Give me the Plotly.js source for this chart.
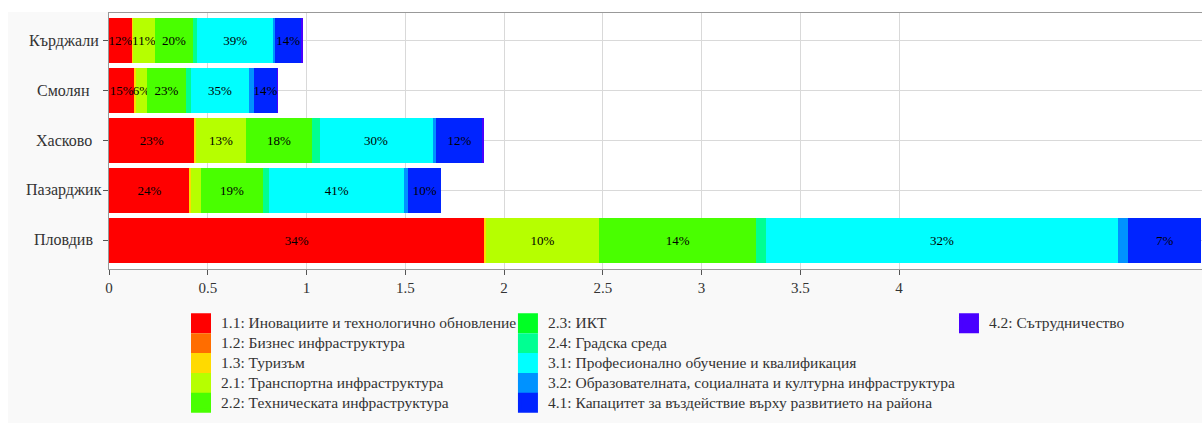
<!DOCTYPE html>
<html>
<head>
<meta charset="utf-8">
<script src="https://cdn.plot.ly/plotly-3.0.1.min.js"></script>
<style>
html,body{margin:0;padding:0;background:#ffffff;overflow:hidden;}
#chart{position:absolute;left:8px;top:12px;width:1194px;height:411px;}
</style>
</head>
<body>
<div id="chart"></div>
<script>
// Categories (top to bottom)
const regions = ["Кърджали", "Смолян", "Хасково", "Пазарджик", "Пловдив"];

// Series names
const seriesNames = [
  "1.1: Иновациите и технологично обновление",
  "1.2: Бизнес инфраструктура",
  "1.3: Туризъм",
  "2.1: Транспортна инфраструктура",
  "2.2: Техническата инфраструктура",
  "2.3: ИКТ",
  "2.4: Градска среда",
  "3.1: Професионално обучение и квалификация",
  "3.2: Образователната, социалната и културна инфраструктура",
  "4.1: Капацитет за въздействие върху развитието на района",
  "4.2: Сътрудничество"
];

// Series values (order follows regions)
const s11 = [0.1165, 0.130, 0.434, 0.410, 1.902];
const s12 = [0, 0, 0, 0, 0];
const s13 = [0.005, 0.008, 0.007, 0.005, 0.005];
const s21 = [0.110, 0.053, 0.252, 0.049, 0.575];
const s22 = [0.196, 0.199, 0.336, 0.317, 0.795];
const s23 = [0, 0, 0, 0, 0];
const s24 = [0.020, 0.024, 0.037, 0.030, 0.051];
const s31 = [0.383, 0.297, 0.572, 0.685, 1.779];
const s32 = [0.009, 0.022, 0.020, 0.020, 0.054];
const s41 = [0.137, 0.1195, 0.233, 0.165, 0.370];
const s42 = [0.002, 0.003, 0.003, 0, 0];

const seriesValues = [s11, s12, s13, s21, s22, s23, s24, s31, s32, s41, s42];

const colors = ["#ff0000", "#ff6d00", "#ffda00", "#b6ff00", "#49ff00", "#00ff24",
                "#00ff92", "#00ffff", "#0092ff", "#0024ff", "#4900ff"];

const legendOf = ["legend", "legend", "legend", "legend", "legend",
                  "legend2", "legend2", "legend2", "legend2", "legend2", "legend3"];

// Tick labels
const xTickVals = [0, 0.5, 1, 1.5, 2, 2.5, 3, 3.5, 4];
const xTickText = ["0", "0.5", "1", "1.5", "2", "2.5", "3", "3.5", "4"];

const FONT = "Liberation Serif, 'Times New Roman', serif";
const minPctLabel = 5;

const totals = regions.map((r, i) => seriesValues.reduce((s, arr) => s + arr[i], 0));

const traces = [];
seriesValues.forEach((vals, k) => {
  const text = vals.map((v, i) => {
    const p = v / totals[i] * 100;
    return p >= minPctLabel ? Math.round(p) + "%" : "";
  });
  traces.push({
    type: "bar",
    orientation: "h",
    name: seriesNames[k],
    x: vals,
    y: regions,
    marker: {color: colors[k], line: {width: 0}},
    text: text,
    textposition: "inside",
    insidetextanchor: "middle",
    textangle: 0,
    constraintext: "none",
    insidetextfont: {family: FONT, size: 13, color: "#000000"},
    showlegend: false,
    hoverinfo: "name+x"
  });
});

// Legend entries (no data points drawn; legend symbols only)
seriesNames.forEach((nm, k) => {
  traces.push({
    type: "scatter",
    mode: "markers",
    name: '<span style="font-size:15.5px">' + nm + '</span>',
    x: [null],
    y: [null],
    marker: {symbol: "square", size: 16, color: colors[k], line: {width: 4, color: colors[k]}},
    legend: legendOf[k],
    showlegend: true,
    hoverinfo: "skip"
  });
});

const legendBase = {
  orientation: "v",
  xanchor: "left",
  yanchor: "top",
  y: -0.1535,
  bgcolor: "rgba(0,0,0,0)",
  borderwidth: 0,
  traceorder: "normal",
  font: {family: FONT, size: 13, color: "#333333"}
};

const annotations = regions.map(r => ({
  xref: "paper", yref: "y",
  x: -0.0414, y: r,
  text: r,
  showarrow: false,
  xanchor: "center", yanchor: "middle",
  font: {family: FONT, size: 16, color: "#333333"}
}));

const layout = {
  width: 1194,
  height: 411,
  paper_bgcolor: "#f9f9f9",
  plot_bgcolor: "#ffffff",
  barmode: "stack",
  bargap: 0.1,
  margin: {l: 101, r: 0, t: 1, b: 154, pad: 0},
  font: {family: FONT, size: 13, color: "#333333"},
  xaxis: {
    type: "linear",
    range: [0, 5.534],
    autorange: false,
    tickmode: "array",
    tickvals: xTickVals,
    ticktext: xTickText,
    ticks: "outside",
    ticklen: 5,
    tickcolor: "#555555",
    showline: true,
    linecolor: "#999999",
    mirror: true,
    showgrid: true,
    gridcolor: "#d9d9d9",
    zeroline: false,
    tickfont: {family: FONT, size: 15, color: "#333333"}
  },
  yaxis: {
    type: "category",
    categoryorder: "array",
    categoryarray: regions,
    range: [4.58, -0.56],
    autorange: false,
    ticks: "outside",
    ticklen: 5,
    tickcolor: "#555555",
    showticklabels: false,
    showline: true,
    linecolor: "#999999",
    mirror: true,
    showgrid: true,
    gridcolor: "#d9d9d9",
    zeroline: false
  },
  legend: Object.assign({}, legendBase, {x: 0.0659}),
  legend2: Object.assign({}, legendBase, {x: 0.3650}),
  legend3: Object.assign({}, legendBase, {x: 0.7685}),
  annotations: annotations,
  showlegend: true
};

Plotly.newPlot("chart", traces, layout, {displayModeBar: false, responsive: false});
</script>
</body>
</html>
